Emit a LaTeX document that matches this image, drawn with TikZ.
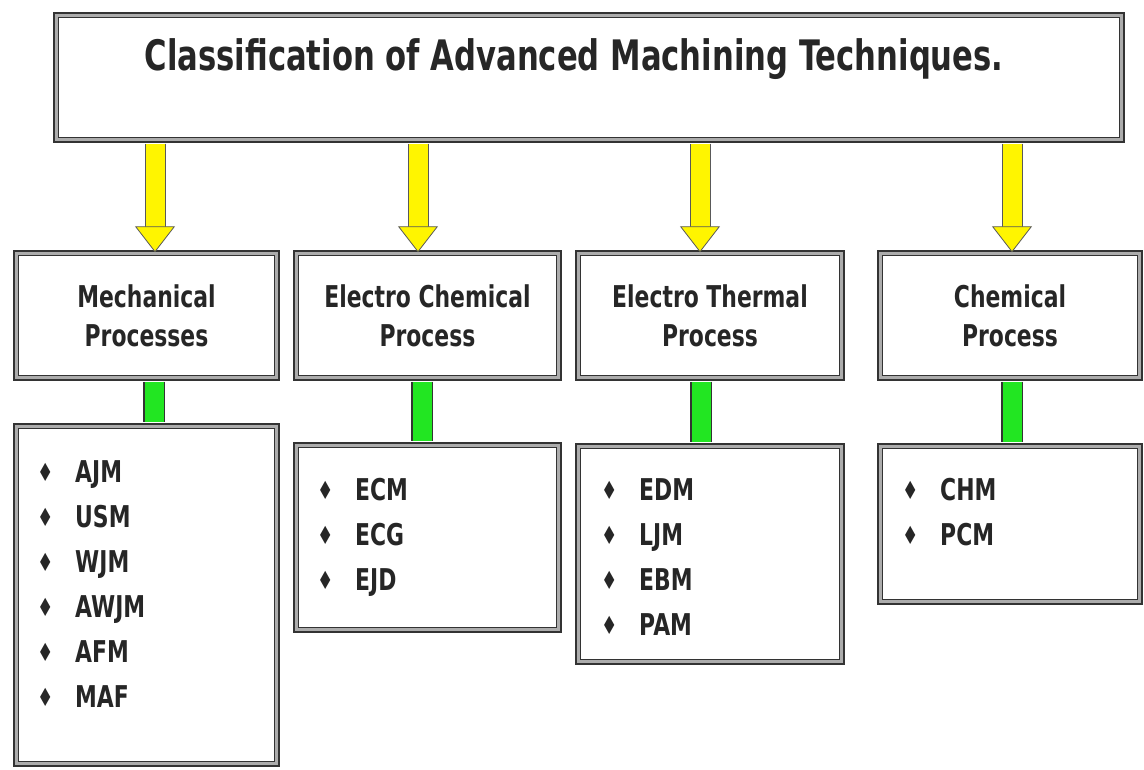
\documentclass[tikz,border=0pt]{standalone}
\usepackage{fontspec}
\usetikzlibrary{arrows.meta}

\newfontfamily\diagfont[FakeStretch=0.73]{DejaVu Sans}
\definecolor{arrowyellow}{HTML}{FFF500}
\definecolor{conngreen}{HTML}{22E622}
\newcommand{\itm}[1]{\makebox[38pt][l]{\raisebox{1pt}{\fontsize{25}{25}\selectfont ♦}}#1}

\begin{document}
\begin{tikzpicture}[x=1pt, y=-1pt]
	\tikzset{
		box/.style={draw=black!80, line width=1.7pt, double=gray!65, double distance=3pt, fill=white, inner sep=0pt},
		heading/.style={box, minimum height=124.7pt, align=center, text=black!85,
			font={\diagfont\bfseries\fontsize{30}{39}\selectfont}},
		items/.style={anchor=north west, inner sep=0pt, align=left, text=black!85,
			font={\diagfont\bfseries\fontsize{30}{45}\selectfont}},
		yarrow/.style={draw=arrowyellow, line width=19pt, shorten <=3pt,
			-{Triangle[length=26pt, width=40pt, fill=arrowyellow, color=black!65, line width=0.8pt]},
			preaction={draw=black!65, line width=21pt, arrows=-, shorten <=3pt, shorten >=25pt}},
		gconn/.style={draw=conngreen, line width=19pt, shorten <=3pt, shorten >=3pt,
			preaction={draw=black!80, line width=22pt, shorten <=3pt, shorten >=3pt}}
	}
	\fill[white] (0,0) rectangle (1144,769);
	\useasboundingbox (0,0) rectangle (1144,769);

	% top box
	\node[box, minimum width=1065.6pt, minimum height=124.6pt] (title) at (589, 77.5) {};
	\node[anchor=base, inner sep=0pt, text=black!85, font={\diagfont\bfseries\fontsize{42}{48}\selectfont}] (titletxt) at (574, 70) {Classification of Advanced Machining Techniques.};

	% process boxes
	\node[heading, minimum width=260.6pt] (mech) at (146.5, 315.5) {Mechanical\\Processes};
	\node[heading, minimum width=262.6pt] (echem) at (427.5, 315.5) {Electro Chemical\\Process};
	\node[heading, minimum width=263.6pt] (etherm) at (710, 315.5) {Electro Thermal\\Process};
	\node[heading, minimum width=259.6pt] (chem) at (1010, 315.5) {Chemical\\Process};

	% list boxes
	\node[box, minimum width=260.6pt, minimum height=337.6pt] (mechlist) at (146.5, 595) {};
	\node[box, minimum width=262.6pt, minimum height=184.6pt] (echemlist) at (427.5, 537.5) {};
	\node[box, minimum width=263.6pt, minimum height=215.6pt] (ethermlist) at (710, 554) {};
	\node[box, minimum width=259.6pt, minimum height=155.6pt] (chemlist) at (1010, 524) {};

	\node[items] (mechtxt) at (37, 460) {\itm{AJM}\\\itm{USM}\\\itm{WJM}\\\itm{AWJM}\\\itm{AFM}\\\itm{MAF}};
	\node[items] (echemtxt) at (317, 478) {\itm{ECM}\\\itm{ECG}\\\itm{EJD}};
	\node[items] (ethermtxt) at (601, 478) {\itm{EDM}\\\itm{LJM}\\\itm{EBM}\\\itm{PAM}};
	\node[items] (chemtxt) at (902, 478) {\itm{CHM}\\\itm{PCM}};

	% yellow arrows
	\draw[yarrow] ([xshift=8.5pt]mech.north |- title.south) -- ([xshift=8.5pt]mech.north);
	\draw[yarrow] ([xshift=-9.5pt]echem.north |- title.south) -- ([xshift=-9.5pt]echem.north);
	\draw[yarrow] ([xshift=-10pt]etherm.north |- title.south) -- ([xshift=-10pt]etherm.north);
	\draw[yarrow] ([xshift=2pt]chem.north |- title.south) -- ([xshift=2pt]chem.north);

	% green links
	\draw[gconn] ([xshift=7.5pt]mech.south) -- ([xshift=7.5pt]mechlist.north);
	\draw[gconn] ([xshift=-5.5pt]echem.south) -- ([xshift=-5.5pt]echemlist.north);
	\draw[gconn] ([xshift=-9pt]etherm.south) -- ([xshift=-9pt]ethermlist.north);
	\draw[gconn] ([xshift=2pt]chem.south) -- ([xshift=2pt]chemlist.north);
\end{tikzpicture}
\end{document}
